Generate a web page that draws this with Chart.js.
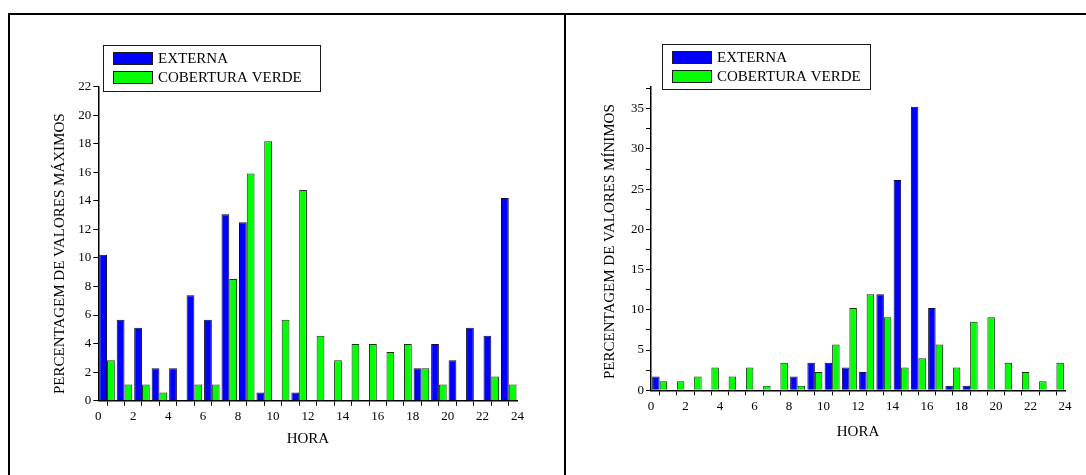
<!DOCTYPE html>
<html lang="pt">
<head>
<meta charset="UTF-8">
<title>Percentagem de valores máximos e mínimos por hora</title>
<script src="https://cdn.jsdelivr.net/npm/chart.js@4"></script>
<style>
  * { margin: 0; padding: 0; box-sizing: border-box; }
  html, body { width: 1086px; height: 475px; background: #fff; overflow: hidden; }
  .rule { position: absolute; background: #000; }
  canvas { position: absolute; }
</style>
</head>
<body>
<div class="rule" style="left:8px;top:13px;width:1078px;height:2px"></div>
<div class="rule" style="left:8px;top:13px;width:2px;height:462px"></div>
<div class="rule" style="left:564px;top:13px;width:2px;height:462px"></div>
<canvas id="maximos" width="554" height="460" style="left:10px;top:15px"></canvas>
<canvas id="minimos" width="520" height="460" style="left:566px;top:15px"></canvas>

<script>
// ---------- Data ----------

const HOURS = [0, 1, 2, 3, 4, 5, 6, 7, 8, 9, 10, 11, 12, 13, 14, 15, 16, 17, 18, 19, 20, 21, 22, 23];
const HOUR_TICKS = [0, 2, 4, 6, 8, 10, 12, 14, 16, 18, 20, 22, 24];

const SERIES_LABELS = ['EXTERNA', 'COBERTURA VERDE'];
const SERIES_COLORS = ['#0000ff', '#00ff00'];

// % of days on which the daily maximum happened at each hour
const EXTERNA_MAX = [10.23, 5.68, 5.11, 2.27, 2.27, 7.39, 5.68, 13.07, 12.5, 0.57, 0, 0.57,
                     0, 0, 0, 0, 0, 0, 2.27, 3.98, 2.84, 5.11, 4.55, 14.2];
const VERDE_MAX   = [2.84, 1.14, 1.14, 0.57, 0, 1.14, 1.14, 8.52, 15.91, 18.18, 5.68, 14.77,
                     4.55, 2.84, 3.98, 3.98, 3.41, 3.98, 2.27, 1.14, 0, 0, 1.7, 1.14];
const MAX_TICKS   = [0, 2, 4, 6, 8, 10, 12, 14, 16, 18, 20, 22];

// % of days on which the daily minimum happened at each hour
const EXTERNA_MIN = [1.7, 0, 0, 0, 0, 0, 0, 0, 1.7, 3.41, 3.41, 2.84,
                     2.27, 11.93, 26.14, 35.23, 10.23, 0.57, 0.57, 0, 0, 0, 0, 0];
const VERDE_MIN   = [1.14, 1.14, 1.7, 2.84, 1.7, 2.84, 0.57, 3.41, 0.57, 2.27, 5.68, 10.23,
                     11.93, 9.09, 2.84, 3.98, 5.68, 2.84, 8.52, 9.09, 3.41, 2.27, 1.14, 3.41];
const MIN_TICKS   = [0, 5, 10, 15, 20, 25, 30, 35];

// ---------- Helpers ----------

const SERIF = '"Liberation Serif", "Times New Roman", serif';
Chart.defaults.font.family = SERIF;
Chart.defaults.color = '#000';

// each hour's pair of bars sits inside [h, h+1]
function points(values) {
  return values.map((v, i) => ({ x: HOURS[i] + 0.5, y: v }));
}

// axis titles + boxed legend, drawn relative to the chart area
const frameText = {
  id: 'frameText',
  afterDraw(chart, args, opts) {
    const { ctx, chartArea: a } = chart;
    ctx.save();
    ctx.fillStyle = '#000';
    ctx.font = `15px ${SERIF}`;
    ctx.textAlign = 'center';
    ctx.textBaseline = 'middle';
    ctx.fillText(opts.xTitle, (a.left + a.right) / 2, a.bottom + opts.xTitleGap);
    ctx.translate(a.left - opts.yTitleGap, (a.top + a.bottom) / 2 + opts.yTitleShift);
    ctx.rotate(-Math.PI / 2);
    ctx.fillText(opts.yTitle, 0, 0);
    ctx.restore();

    const L = opts.legend;
    const bx = Math.round(a.left + L.dx), by = L.top;
    ctx.save();
    ctx.fillStyle = '#fff';
    ctx.fillRect(bx, by, L.width, L.height);
    ctx.strokeStyle = '#1a1a1a';
    ctx.lineWidth = 1;
    ctx.strokeRect(bx + 0.5, by + 0.5, L.width, L.height);
    ctx.font = `15px ${SERIF}`;
    ctx.textAlign = 'left';
    ctx.textBaseline = 'middle';
    chart.data.datasets.forEach((ds, i) => {
      const sy = by + 7 + i * 19;
      ctx.fillStyle = ds.backgroundColor;
      ctx.fillRect(bx + 10, sy, 39, 12);
      ctx.strokeStyle = '#1a1a1a';
      ctx.strokeRect(bx + 10.5, sy + 0.5, 39, 12);
      ctx.fillStyle = '#000';
      ctx.fillText(ds.label, bx + 55, sy + 7);
    });
    ctx.restore();
  }
};

function axisLines() {
  return {
    grid: { drawOnChartArea: false, drawTicks: true, tickLength: 5, color: '#000', lineWidth: 1 },
    border: { display: true, color: '#000', width: 1.5 },
  };
}

function buildChart(id, cfg) {
  const bar = (i, values) => ({
    label: SERIES_LABELS[i],
    data: points(values),
    backgroundColor: SERIES_COLORS[i],
    borderColor: i === 0 ? '#0c0c3a' : '#113311',
    borderWidth: 1,
    categoryPercentage: cfg.groupWidth,
    barPercentage: 1,
  });

  return new Chart(document.getElementById(id), {
    type: 'bar',
    data: { datasets: [bar(0, cfg.externa), bar(1, cfg.verde)] },
    options: {
      responsive: false,
      animation: false,
      devicePixelRatio: 1,
      layout: { padding: { left: 0, top: cfg.top, right: cfg.right, bottom: 0 } },
      plugins: {
        legend: { display: false },
        tooltip: { enabled: false },
        frameText: cfg.text,
      },
      scales: {
        x: {
          type: 'linear', min: 0, max: 24, offset: false,
          afterFit: s => { s.height = cfg.xHeight; },
          ticks: {
            stepSize: 1, autoSkip: false, maxRotation: 0, padding: 3,
            font: { size: 13 }, color: '#000',
            callback: v => HOUR_TICKS.includes(v) ? v : '',
          },
          ...axisLines(),
        },
        y: {
          min: 0, max: cfg.yMax,
          afterFit: s => { s.width = cfg.yWidth; },
          ticks: {
            stepSize: cfg.yStep, includeBounds: false, padding: 2,
            font: { size: 13 }, color: '#000',
            callback: v => cfg.yTicks.includes(v) ? v : '',
          },
          ...axisLines(),
        },
      },
    },
    plugins: [frameText],
  });
}

// ---------- Charts ----------

buildChart('maximos', {
  externa: EXTERNA_MAX, verde: VERDE_MAX,
  yMax: 22, yStep: 1, yTicks: MAX_TICKS,
  groupWidth: 0.89,
  top: 71.7, right: 46.5, yWidth: 88.3, xHeight: 74.3,
  text: {
    xTitle: 'HORA', xTitleGap: 38,
    yTitle: 'PERCENTAGEM DE VALORES MÁXIMOS', yTitleGap: 38, yTitleShift: 10,
    legend: { dx: 5, top: 30, width: 217, height: 46 },
  },
});

buildChart('minimos', {
  externa: EXTERNA_MIN, verde: VERDE_MIN,
  yMax: 37.7, yStep: 2.5, yTicks: MIN_TICKS,
  groupWidth: 0.87,
  top: 72, right: 21, yWidth: 85, xHeight: 84.7,
  text: {
    xTitle: 'HORA', xTitleGap: 42,
    yTitle: 'PERCENTAGEM DE VALORES MÍNIMOS', yTitleGap: 41, yTitleShift: 3,
    legend: { dx: 10.7, top: 29, width: 208, height: 45 },
  },
});
</script>
</body>
</html>
